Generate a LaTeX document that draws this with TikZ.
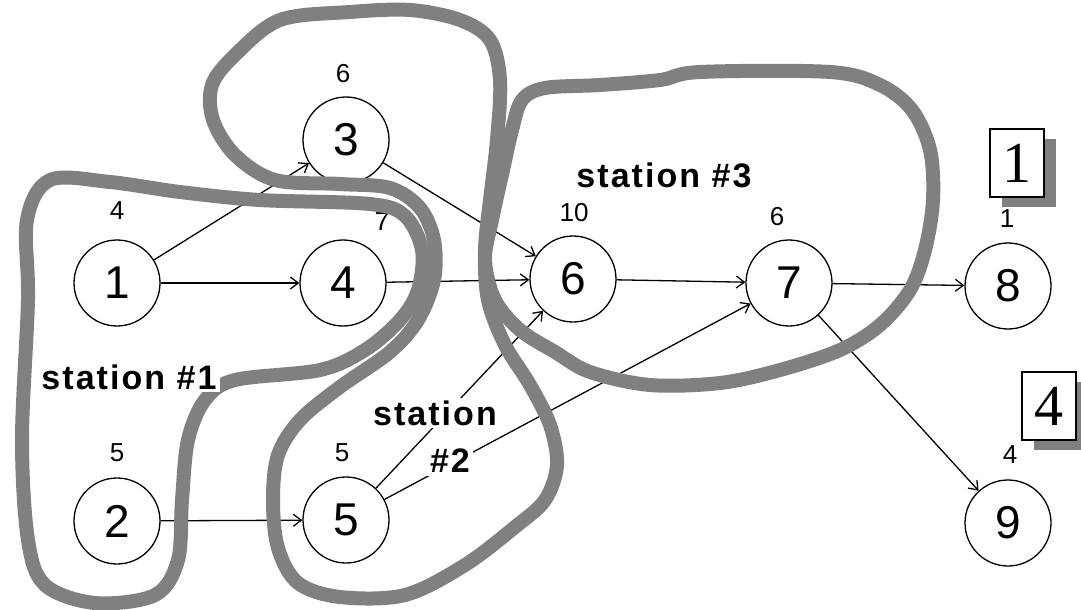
\documentclass[tikz,border=0pt]{standalone}
\usepackage{fontspec}
\setmainfont{Liberation Sans}
\newfontfamily\serifnum{Liberation Serif}
\usetikzlibrary{arrows.meta}
\definecolor{band}{gray}{0.5}
\begin{document}
\begin{tikzpicture}[x=1pt,y=-1pt,
  st/.style={circle,draw,line width=1.3pt,minimum size=86pt,inner sep=0pt,font=\fontsize{46}{46}\selectfont},
  wt/.style={font=\fontsize{26}{26}\selectfont},
  lab/.style={fill=white,inner sep=3pt,font=\bfseries\fontsize{34}{36}\selectfont\addfontfeatures{LetterSpace=6}},
  edge/.style={line width=1.3pt,-{Straight Barb[length=8pt,width=12pt,line width=1.3pt]}},
  bandline/.style={draw=band,line width=14pt,line join=round},
  numbox/.style={draw,fill=white,line width=1.3pt,minimum width=54pt,minimum height=68pt,inner sep=0pt,font=\serifnum\fontsize{58}{58}\selectfont}
]
\useasboundingbox (0,0) rectangle (1081,610);

% nodes
\node[st] (n1) at (117,283) {1};
\node[st] (n4) at (343,283) {4};
\node[st] (n3) at (346,140) {3};
\node[st] (n6) at (573,279) {6};
\node[st] (n7) at (789,283) {7};
\node[st] (n8) at (1008,286) {8};
\node[st] (n2) at (117,521) {2};
\node[st] (n5) at (346,520) {5};
\node[st] (n9) at (1008,523) {9};

% weights
\node[wt] (w1) at (117,211) {4};
\node[wt] (w3) at (343,74) {6};
\node[wt] (w4) at (382,222) {7};
\node[wt] (w6) at (574,213) {10};
\node[wt] (w7) at (777,217) {6};
\node[wt] (w8) at (1007,219) {1};
\node[wt] (w2) at (117,453) {5};
\node[wt] (w5) at (342,453) {5};
\node[wt] (w9) at (1010,455) {4};

% edges
\draw[edge] (n1) -- (n4);
\draw[edge] (n1) -- (n3);
\draw[edge] (n3) -- (n6);
\draw[edge] (n4) -- (n6);
\draw[edge] (n5) -- (n6);
\draw[edge] (n5) -- (n7);
\draw[edge] (n2) -- (n5);
\draw[edge] (n6) -- (n7);
\draw[edge] (n7) -- (n8);
\draw[edge] (n7) -- (n9);

% station outlines
\draw[bandline] plot[smooth cycle,tension=0.55] coordinates {
 (28,300) (27,220) (50,180) (110,182) (180,192) (260,200) (370,204) (405,216)
 (422,250) (418,290) (400,320) (365,350) (320,370) (235,380) (205,400) (188,440)
 (182,500) (178,560) (155,595) (95,603) (45,585) (28,540) (22,440)};
\draw[bandline] plot[smooth cycle,tension=0.55] coordinates {
 (280,20) (350,12) (410,10) (460,20) (490,40) (500,80) (497,140) (490,200)
 (485,250) (488,300) (505,345) (530,385) (550,425) (557,465) (545,500) (515,527)
 (465,565) (405,595) (340,597) (298,583) (278,548) (273,500) (278,455) (300,420)
 (340,387) (390,352) (418,320) (434,280) (434,240) (420,208) (390,188) (340,184)
 (275,180) (235,155) (213,120) (212,85) (235,55)};
\draw[bandline] plot[smooth cycle,tension=0.55] coordinates {
 (522,100) (545,88) (600,85) (660,80) (700,72) (830,72) (880,85) (912,110)
 (930,150) (933,200) (925,250) (910,290) (880,325) (840,350) (780,370) (720,383)
 (650,385) (590,372) (555,352) (520,330) (495,300) (485,260) (492,220) (503,170)
 (512,130)};

% labels
\node[lab] (s1) at (129,377) {station \#1};
\node[lab] (s2a) at (435,413) {station};
\node[lab] (s2b) at (450,461) {\#2};
\node[lab,fill=none] (s3) at (664,175) {station \#3};

% boxed numbers with shadows
\fill[band] (1002,139) rectangle (1056,207);
\node[numbox] (b1) at (1017,163) {1};
\fill[band] (1034,382) rectangle (1088,450);
\node[numbox] (b4) at (1049,406) {4};
\end{tikzpicture}
\end{document}
